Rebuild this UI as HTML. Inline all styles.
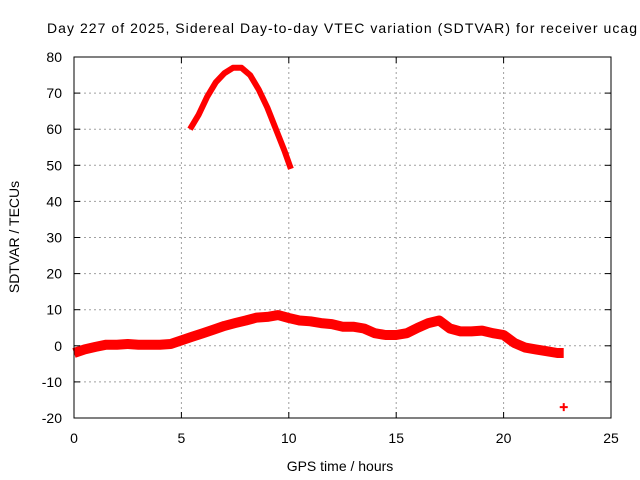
<!DOCTYPE html>
<html><head><meta charset="utf-8"><style>body{margin:0;background:#fff}svg{display:block;font-family:"Liberation Sans",sans-serif}</style></head>
<body>
<svg id="chart" width="640" height="480">
<rect width="640" height="480" fill="#fff"/>
<text x="47" y="33" font-size="14" textLength="590" lengthAdjust="spacing">Day 227 of 2025, Sidereal Day-to-day VTEC variation (SDTVAR) for receiver ucag</text>
<g id="grid"></g><g id="series"></g>
<rect x="74" y="57" width="537" height="361" fill="none" stroke="#000"/>
<g id="ticks"></g>
<text x="340" y="471" font-size="14" text-anchor="middle">GPS time / hours</text>
<text transform="translate(19,237) rotate(-90)" font-size="14" text-anchor="middle">SDTVAR / TECUs</text>
</svg>
<script>
const xTicks=[0,5,10,15,20,25];
const yTicks=[-20,-10,0,10,20,30,40,50,60,70,80];
const lowT=[0,0.5,1,1.5,2,2.5,3,3.5,4,4.5,5,5.5,6,6.5,7,7.5,8,8.5,9,9.5,10,10.5,11,11.5,12,12.5,13,13.5,14,14.5,15,15.5,16,16.5,17,17.5,18,18.5,19,19.5,20,20.5,21,21.5,22,22.5,22.8];
const lowV=[-2,-1,-0.3,0.3,0.3,0.5,0.3,0.3,0.3,0.5,1.5,2.5,3.5,4.5,5.5,6.3,7,7.8,8,8.5,7.7,7,6.8,6.3,6,5.3,5.3,4.8,3.5,3,3,3.5,5,6.3,7,4.8,4,4,4.2,3.5,3,0.8,-0.5,-1,-1.5,-2,-2];
const upT=[5.4,5.8,6.2,6.6,7,7.4,7.8,8.2,8.6,9,9.4,9.8,10.1];
const upV=[60,64,69,73,75.5,77,77,75,71,66,60,54,49];
const outT=[22.8], outV=[-17];
const NS='http://www.w3.org/2000/svg';
const X=t=>74+t/25*537, Y=v=>418-(v+20)/100*361;
function mk(tag,attrs,parent){const e=document.createElementNS(NS,tag);for(const k in attrs)e.setAttribute(k,attrs[k]);document.getElementById(parent).appendChild(e);return e;}
xTicks.forEach(t=>{
 if(t>0&&t<25){const g=mk('line',{x1:X(t),x2:X(t),y1:57,y2:418,stroke:'#a0a0a0','stroke-dasharray':'2,3'},'grid');
 }
 const a=mk('line',{x1:X(t),x2:X(t),y1:418,y2:412,stroke:'#000'},'ticks');
 const b=mk('line',{x1:X(t),x2:X(t),y1:57,y2:63,stroke:'#000'},'ticks');
 const l=mk('text',{x:X(t),y:443,'font-size':14,'text-anchor':'middle'},'ticks');l.textContent=t;
 
});
yTicks.forEach(v=>{
 if(v>-20&&v<80){const g=mk('line',{x1:74,x2:611,y1:Y(v),y2:Y(v),stroke:'#a0a0a0','stroke-dasharray':'2,3'},'grid');
 }
 const a=mk('line',{x1:74,x2:80,y1:Y(v),y2:Y(v),stroke:'#000'},'ticks');
 const b=mk('line',{x1:605,x2:611,y1:Y(v),y2:Y(v),stroke:'#000'},'ticks');
 const l=mk('text',{x:62,y:Y(v)+5,'font-size':14,'text-anchor':'end'},'ticks');l.textContent=v;
 
});
const lp=lowT.map((t,i)=>X(t).toFixed(1)+','+Y(lowV[i]).toFixed(1)).join(' ');
const low=mk('polyline',{points:lp,fill:'none',stroke:'#f00','stroke-width':10,'stroke-linejoin':'round'},'series');

const up=upT.map((t,i)=>X(t).toFixed(1)+','+Y(upV[i]).toFixed(1)).join(' ');
const upl=mk('polyline',{points:up,fill:'none',stroke:'#f00','stroke-width':6,'stroke-linejoin':'round'},'series');

outT.forEach((t,i)=>{const x=X(t),y=Y(outV[i]);
 const p=mk('path',{d:`M${x-4},${y}H${x+4}M${x},${y-4}V${y+4}`,stroke:'#f00','stroke-width':2},'series');
 });
</script>
</body></html>
